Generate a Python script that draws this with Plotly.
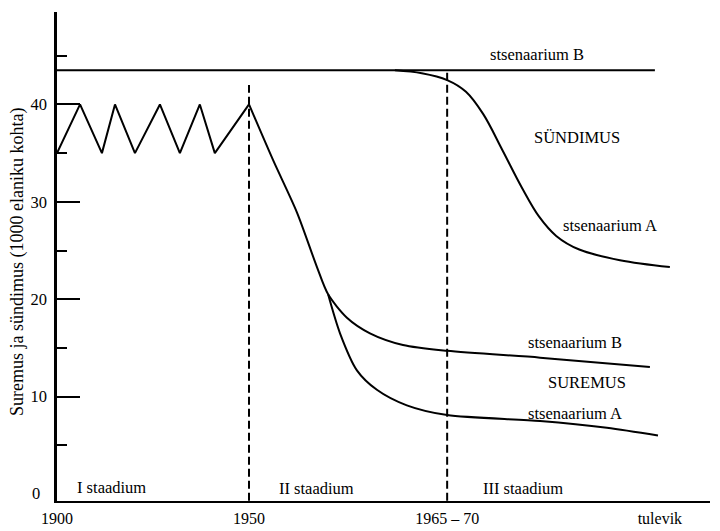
import plotly.graph_objects as go

# x is an abstract time axis: 1900 -> 0, 1950 -> 50, 1965-70 -> 101.6
tick_pos = [0, 50, 101.6, 157]
tick_labels = ["1900", "1950", "1965 – 70", "tulevik"]
stage_bounds = [50, 101.6]

# Stage I death rate (fluctuating)
death_I_x = [0, 6.0, 11.7, 15.1, 20.3, 26.8, 32.0, 37.2, 41.1, 50]
death_I_y = [35, 40, 35, 40, 35, 40, 35, 40, 35, 40]

# Death rate, scenario B (common decline then levelling off)
death_B_x = [50, 56.25, 62.5, 67.7, 70.6, 75.5, 81.5, 90.1, 101.6, 125.8, 154.4]
death_B_y = [40, 34.3, 28.9, 23.3, 20.5, 18.1, 16.5, 15.3, 14.7, 14.0, 13.05]

# Death rate, scenario A branch
death_A_x = [70.6, 73.7, 78.1, 83.3, 91.1, 101.6, 125.8, 143.2, 156.5]
death_A_y = [20.5, 16.5, 12.7, 10.7, 9.1, 8.1, 7.5, 6.8, 6.0]

# Birth rate, scenario B (constant)
birth_B_x = [0, 155.7]
birth_B_y = [43.5, 43.5]

# Birth rate, scenario A
birth_A_x = [88, 95.0, 101.6, 106.5, 111.0, 116.0, 121.0, 125.5, 130.0, 136.0, 146.6, 159.6]
birth_A_y = [43.5, 43.2, 42.5, 41.3, 39.0, 35.3, 31.5, 28.5, 26.5, 25.1, 24.0, 23.3]

FONT = "Liberation Serif"
FS = 16.5
LW = 2

fig = go.Figure()
line = dict(color="black", width=LW)
spl = dict(color="black", width=LW, shape="spline", smoothing=0.8)
fig.add_trace(go.Scatter(x=death_I_x, y=death_I_y, mode="lines", line=line))
fig.add_trace(go.Scatter(x=death_B_x, y=death_B_y, mode="lines", line=spl))
fig.add_trace(go.Scatter(x=death_A_x, y=death_A_y, mode="lines", line=spl))
fig.add_trace(go.Scatter(x=birth_B_x, y=birth_B_y, mode="lines", line=line))
fig.add_trace(go.Scatter(x=birth_A_x, y=birth_A_y, mode="lines",
                         line=dict(color="black", width=LW, shape="spline", smoothing=1.0)))

# dashed stage boundaries
fig.add_trace(go.Scatter(x=[stage_bounds[0], stage_bounds[0]], y=[-0.7, 42], mode="lines",
                         line=dict(color="black", width=LW, dash="8px,4px")))
fig.add_trace(go.Scatter(x=[stage_bounds[1], stage_bounds[1]], y=[-0.7, 43.5], mode="lines",
                         line=dict(color="black", width=LW, dash="8px,4px")))

labels = [
    ("stsenaarium B", 125, 45.1),
    ("SÜNDIMUS", 135.4, 36.6),
    ("stsenaarium A", 144, 27.6),
    ("stsenaarium B", 134.9, 15.6),
    ("SUREMUS", 138, 11.4),
    ("stsenaarium A", 134.9, 8.3),
    ("I staadium", 14.3, 0.7),
    ("II staadium", 67.7, 0.6),
    ("III staadium", 121.4, 0.6),
]
for t, x, y in labels:
    fig.add_annotation(x=x, y=y, xref="x", yref="y", text=t, showarrow=False,
                       font=dict(family=FONT, size=FS, color="black"))

# plot area in pixels: x 57..710, y 12..501
def px(xp):
    return (xp - 57) / 653

def py(yp):
    return (501 - yp) / 489

fig.add_annotation(x=px(36), y=py(493), xref="paper", yref="paper", text="0", showarrow=False,
                   xanchor="center", yanchor="middle",
                   font=dict(family=FONT, size=FS, color="black"))
fig.add_annotation(x=px(17), y=py(262), xref="paper", yref="paper",
                   text="Suremus ja sündimus (1000 elaniku kohta)",
                   showarrow=False, textangle=-90, xanchor="center", yanchor="middle",
                   font=dict(family=FONT, size=18, color="black"))

fig.update_layout(
    width=720, height=531,
    margin=dict(l=57, r=10, t=12, b=30, autoexpand=False),
    paper_bgcolor="white", plot_bgcolor="white",
    showlegend=False,
    font=dict(family=FONT, size=FS, color="black"),
    xaxis=dict(range=[0, 170.05], showgrid=False, zeroline=False, showline=True, automargin=False,
               linecolor="black", linewidth=LW, ticks="",
               tickvals=tick_pos, ticktext=tick_labels, ticklabelstandoff=2,
               tickfont=dict(family=FONT, size=16, color="black")),
    yaxis=dict(range=[-0.72, 49.49], showgrid=False, zeroline=False, showline=True, automargin=False,
               linecolor="black", linewidth=LW + 0.5, ticks="inside", ticklen=23, tickwidth=2,
               tickcolor="black", tickvals=[10, 20, 30, 40], ticklabelstandoff=4,
               tickfont=dict(family=FONT, size=FS, color="black"),
               minor=dict(tickvals=[5, 15, 25, 35, 45], ticks="inside", ticklen=10,
                          tickwidth=2, tickcolor="black")),
)

fig.write_html("out.html", config={"displayModeBar": False},
               post_script="document.body.style.margin='0';document.body.style.padding='0';")
